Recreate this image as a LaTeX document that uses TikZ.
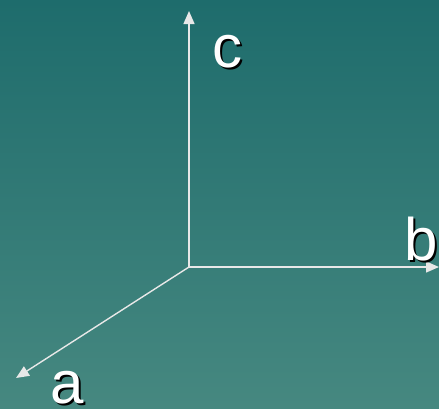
\documentclass[tikz,border=0pt]{standalone}
\usepackage{fontspec}
\setmainfont{Liberation Sans}
\usetikzlibrary{arrows.meta}
\definecolor{bgtop}{RGB}{30,108,108}
\definecolor{bgbot}{RGB}{70,136,128}
\definecolor{axiscol}{RGB}{232,232,232}
\tikzset{
  axis/.style={-{Triangle[length=13pt, width=11pt]}, axiscol, line width=1.4pt},
  axlabel/.style={anchor=base, inner sep=0pt, text=white, font=\fontsize{60}{60}\selectfont},
  axshadow/.style={anchor=base, inner sep=0pt, text=black, font=\fontsize{60}{60}\selectfont}
}

\begin{document}
\begin{tikzpicture}[x=1pt, y=-1pt]
\shade[top color=bgtop, bottom color=bgbot] (0,0) rectangle (439,408);
\useasboundingbox (0,0) rectangle (439,408);

\coordinate (o) at (189,267);
\coordinate (ca) at (16,378);
\coordinate (cb) at (439,267);
\coordinate (cc) at (189,11);

\draw[axis] (o) -- (cc);
\draw[axis] (o) -- (cb);
\draw[axis] (o) -- (ca);

% labels with a small drop shadow
\node[axshadow] (cs) at (229,69) {c};
\node[axlabel] (c) at (227,67) {c};
\node[axshadow] (bs) at (423,262) {b};
\node[axlabel] (b) at (421,260) {b};
\node[axshadow] (as) at (69,405) {a};
\node[axlabel] (a) at (67,403) {a};
\end{tikzpicture}
\end{document}
